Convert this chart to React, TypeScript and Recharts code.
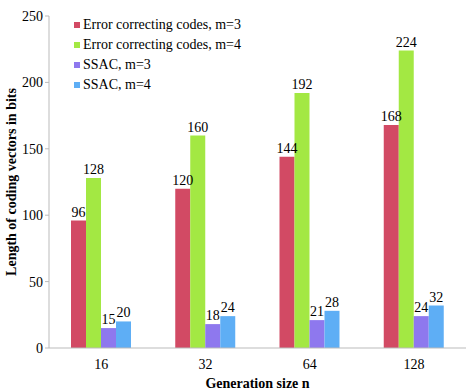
import { BarChart, Bar, XAxis, YAxis, LabelList, Label } from 'recharts'

const categories = ['16', '32', '64', '128']
const eccM3 = [96, 120, 144, 168]
const eccM4 = [128, 160, 192, 224]
const ssacM3 = [15, 18, 21, 24]
const ssacM4 = [20, 24, 28, 32]
const yTicks = [0, 50, 100, 150, 200, 250]

const SERIES = [
  { key: 'eccM3', name: 'Error correcting codes, m=3', color: '#D24A64' },
  { key: 'eccM4', name: 'Error correcting codes, m=4', color: '#A3E843' },
  { key: 'ssacM3', name: 'SSAC, m=3', color: '#8E78EE' },
  { key: 'ssacM4', name: 'SSAC, m=4', color: '#5EAEF5' },
]

const data = categories.map((n, i) => ({
  n,
  eccM3: eccM3[i],
  eccM4: eccM4[i],
  ssacM3: ssacM3[i],
  ssacM4: ssacM4[i],
}))

const font = 'Liberation Serif, Times New Roman, serif'

// legend sits inside the plot, top-left, like the original
const LegendBox = () => (
  <div style={{ position: 'absolute', left: 74, top: 15, fontFamily: font, fontSize: 14, color: '#000' }}>
    {SERIES.map((s) => (
      <div key={s.key} style={{ display: 'flex', alignItems: 'center', height: 20 }}>
        <span style={{ width: 6, height: 6, background: s.color, marginRight: 3, display: 'inline-block' }} />
        {s.name}
      </div>
    ))}
  </div>
)

const App = () => (
  <div style={{ position: 'absolute', left: 0, top: 0, width: 471, height: 391, background: '#fff' }}>
    <BarChart
      width={471}
      height={391}
      data={data}
      margin={{ top: 16, right: 5, left: 0, bottom: 0 }}
      barCategoryGap={22}
      barGap={0}
    >
      <XAxis
        dataKey="n"
        height={43}
        tickLine={false}
        axisLine={{ stroke: '#bbb' }}
        tick={{ fill: '#000', fontFamily: font, fontSize: 14 }}
        tickMargin={5}
      >
        <Label
          value="Generation size n"
          position="insideBottom"
          offset={3}
          style={{ fontFamily: font, fontSize: 14, fontWeight: 'bold', fill: '#000' }}
        />
      </XAxis>
      <YAxis
        width={49}
        domain={[0, 250]}
        ticks={yTicks}
        tickSize={4}
        tickLine={{ stroke: '#bbb' }}
        axisLine={{ stroke: '#bbb' }}
        tick={{ fill: '#000', fontFamily: font, fontSize: 14 }}
      >
        <Label
          value="Length of coding vectors in bits"
          angle={-90}
          position="insideLeft"
          offset={11}
          style={{ textAnchor: 'middle', fontFamily: font, fontSize: 14, fontWeight: 'bold', fill: '#000' }}
        />
      </YAxis>
      {SERIES.map((s) => (
        <Bar key={s.key} dataKey={s.key} name={s.name} fill={s.color} isAnimationActive={false}>
          <LabelList
            dataKey={s.key}
            position="top"
            offset={4}
            style={{ fill: '#000', fontFamily: font, fontSize: 14 }}
          />
        </Bar>
      ))}
    </BarChart>
    <LegendBox />
  </div>
)

export default App
